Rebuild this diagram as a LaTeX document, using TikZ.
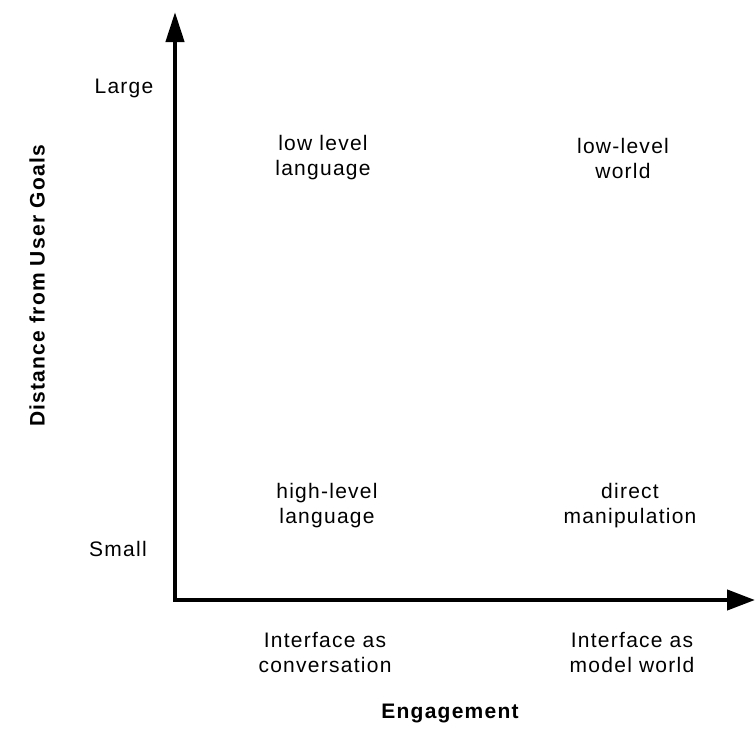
\documentclass[tikz,border=0pt]{standalone}
\usepackage{fontspec}
\setmainfont{Liberation Sans}[LetterSpace=6]
\usetikzlibrary{arrows.meta}
\begin{document}
\begin{tikzpicture}[x=1pt,y=-1pt,
  lbl/.style={align=center,font=\fontsize{21}{25}\selectfont,inner sep=0pt},
  axtitle/.style={font=\fontsize{21}{25}\selectfont\bfseries,inner sep=0pt},
  axis/.style={line width=4.2pt,line join=miter,
    arrows={Triangle[length=30pt,width=18pt]-Triangle[length=28pt,width=20pt]}}]
\useasboundingbox (0,0) rectangle (755,739);
% axes
\coordinate (ytip) at (175,12);
\coordinate (origin) at (175,600);
\coordinate (xtip) at (755,600);
\draw[axis] (ytip) -- (origin) -- (xtip);
% axis ends
\node[lbl] (large) at (124,88) {Large};
\node[lbl] (small) at (118,549) {Small};
\node[lbl] (conv) at (325,652) {Interface as\\conversation};
\node[lbl] (model) at (632,652) {Interface as\\model world};
% axis titles
\node[axtitle] (engage) at (450,713) {Engagement};
\node[axtitle,rotate=90] (dist) at (37,286) {Distance from User Goals};
% quadrants
\node[lbl] (lll) at (323,158) {low level\\language};
\node[lbl] (llw) at (623,158) {low-level\\world};
\node[lbl] (hll) at (327,506) {high-level\\language};
\node[lbl] (dm) at (630,506) {direct\\manipulation};
\end{tikzpicture}
\end{document}
